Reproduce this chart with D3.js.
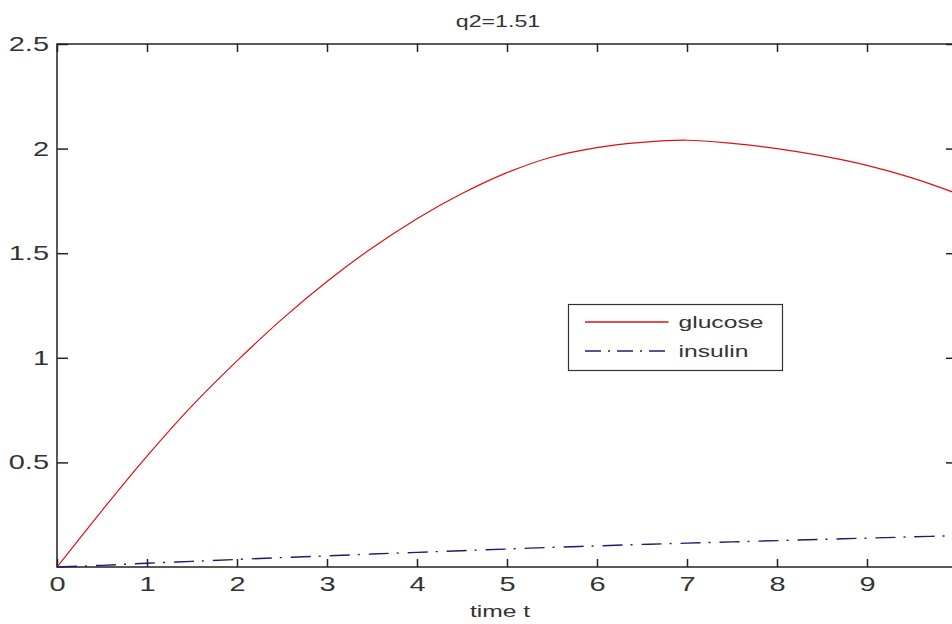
<!DOCTYPE html>
<html>
<head>
<meta charset="utf-8">
<script src="https://cdn.jsdelivr.net/npm/d3@7"></script>
<style>
  body { margin: 0; background: #fff; }
  svg { display: block; }
  text { font-family: "Liberation Sans", Arial, sans-serif; fill: #333; }
</style>
</head>
<body>
<div id="chart"></div>
<script>
// data
var time = [0, 0.5, 1, 1.5, 2, 2.5, 3, 3.5, 4, 4.5, 5, 5.5, 6, 6.5, 7, 7.5, 8, 8.5, 9, 9.5, 10];
var glucose = [0, 0.27, 0.53, 0.77, 0.985, 1.185, 1.365, 1.525, 1.665, 1.785, 1.885, 1.96, 2.005, 2.03, 2.04, 2.025, 2.0, 1.965, 1.92, 1.86, 1.785];
var insulin = [0, 0.008, 0.018, 0.027, 0.036, 0.045, 0.053, 0.062, 0.07, 0.078, 0.086, 0.094, 0.101, 0.108, 0.114, 0.12, 0.126, 0.132, 0.138, 0.144, 0.15];
var xTicks = [0, 1, 2, 3, 4, 5, 6, 7, 8, 9, 10];
var xLabels = ["0", "1", "2", "3", "4", "5", "6", "7", "8", "9", ""]; // 10 is off the edge
var yTicks = [0.5, 1, 1.5, 2, 2.5];
var legendNames = ["glucose", "insulin"];

var W = 952, H = 624;
var margin = {top: 44, right: -5, bottom: 57, left: 57},
    width = W - margin.left - margin.right,
    height = H - margin.top - margin.bottom;
var sx = 1.45; // text looks stretched sideways in the original

var svg = d3.select("#chart")
  .append("svg")
    .attr("width", W)
    .attr("height", H)
  .append("g")
    .attr("transform", "translate(" + margin.left + "," + margin.top + ")");

var x = d3.scaleLinear().domain([0, 10]).range([0, width]);
var y = d3.scaleLinear().domain([0, 2.5]).range([height, 0]);

// bottom axis
var gx = svg.append("g")
  .attr("transform", "translate(0," + height + ")")
  .call(d3.axisBottom(x).tickValues(xTicks).tickFormat(function(d, i) { return xLabels[i]; })
    .tickSizeInner(-8).tickSizeOuter(0).tickPadding(10));
// top axis (ticks only)
svg.append("g")
  .call(d3.axisTop(x).tickValues(xTicks).tickFormat("")
    .tickSizeInner(-8).tickSizeOuter(0));
// left axis
var gy = svg.append("g")
  .call(d3.axisLeft(y).tickValues(yTicks).tickFormat(d3.format("~g"))
    .tickSizeInner(-11).tickSizeOuter(0).tickPadding(8));
// right axis (ticks only)
svg.append("g")
  .attr("transform", "translate(" + width + ",0)")
  .call(d3.axisRight(y).tickValues(yTicks).tickFormat("")
    .tickSizeInner(-11).tickSizeOuter(0));

svg.selectAll(".domain").remove();
svg.selectAll(".tick line").attr("stroke", "#222").attr("stroke-width", 1.5);

gx.selectAll("text")
  .style("font-size", "20px")
  .attr("transform", "scale(" + sx + ",1)");
gy.selectAll("text")
  .style("font-size", "20px")
  .attr("x", -8 / sx)
  .attr("transform", "scale(" + sx + ",1)");

// axes box
svg.append("rect")
  .attr("x", 0).attr("y", 0)
  .attr("width", width).attr("height", height)
  .attr("fill", "none")
  .attr("stroke", "#222")
  .attr("stroke-width", 1.5);

var line = d3.line()
  .x(function(d, i) { return x(time[i]); })
  .y(function(d) { return y(d); })
  .curve(d3.curveCatmullRom);

svg.append("path")
  .datum(glucose)
  .attr("fill", "none")
  .attr("stroke", "#e01010")
  .attr("stroke-width", 1.2)
  .attr("d", line);

svg.append("path")
  .datum(insulin)
  .attr("fill", "none")
  .attr("stroke", "#1c1c70")
  .attr("stroke-width", 1.4)
  .attr("stroke-dasharray", "20,8,2,9")
  .attr("d", line);

// title and x label
svg.append("text")
  .attr("transform", "translate(441,-17) scale(" + sx + ",1)")
  .attr("text-anchor", "middle")
  .style("font-size", "16px")
  .text("q2=1.51");

svg.append("text")
  .attr("transform", "translate(443," + (height + 50) + ") scale(" + sx + ",1)")
  .attr("text-anchor", "middle")
  .style("font-size", "17px")
  .text("time t");

// legend
var lg = svg.append("g").attr("transform", "translate(511.5,260.5)");
lg.append("rect")
  .attr("width", 214).attr("height", 66)
  .attr("fill", "#fff")
  .attr("stroke", "#333")
  .attr("stroke-width", 1.2);
var styles = [
  {stroke: "#e01010", dash: null},
  {stroke: "#1c1c70", dash: "16,7,2,7"}
];
legendNames.forEach(function(name, i) {
  var yy = 17.5 + i * 29;
  lg.append("line")
    .attr("x1", 16.5).attr("x2", 100)
    .attr("y1", yy).attr("y2", yy)
    .attr("stroke", styles[i].stroke)
    .attr("stroke-width", 1.3)
    .attr("stroke-dasharray", styles[i].dash);
  lg.append("text")
    .attr("transform", "translate(110," + (yy + 6) + ") scale(" + sx + ",1)")
    .style("font-size", "17px")
    .text(name);
});
</script>
</body>
</html>
